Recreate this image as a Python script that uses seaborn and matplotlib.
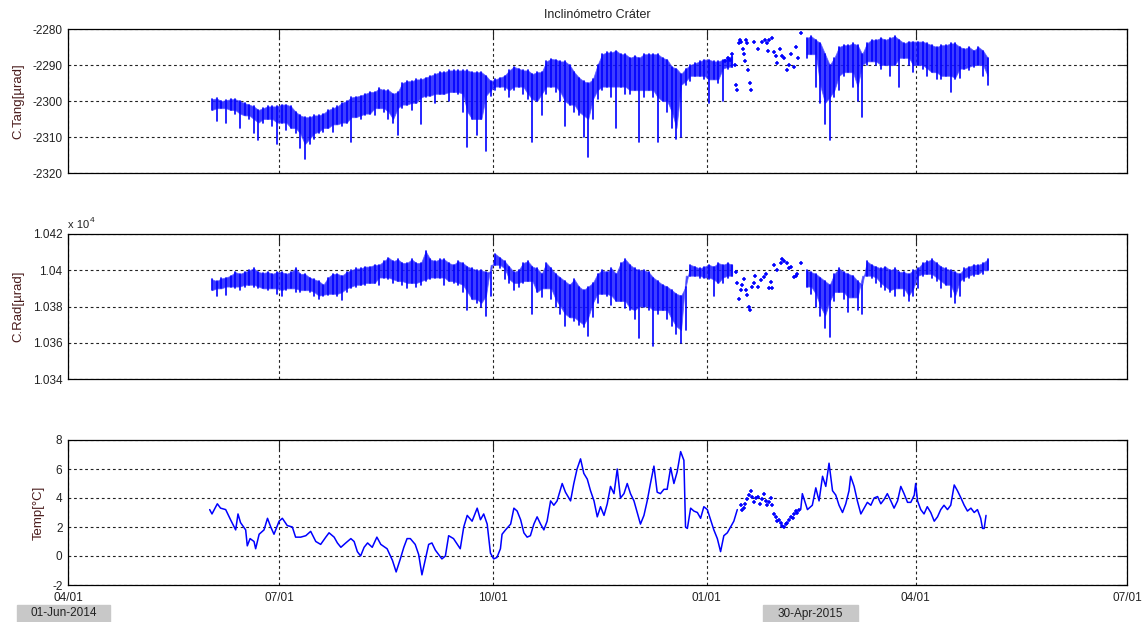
import numpy as np
import pandas as pd
import matplotlib
matplotlib.use("Agg")
import matplotlib.pyplot as plt
import matplotlib.dates as mdates
from matplotlib.patches import Rectangle
import seaborn as sns

# ---------------------------------------------------------------------------
# Data (days counted from 01-Jun-2014)
# ---------------------------------------------------------------------------
START = pd.Timestamp("2014-06-01")
END_LABEL = "30-Apr-2015"

# two-day blocks: upper and lower excursion of each block
days_early = list(range(0, 225, 2))
days_late = list(range(256, 335, 2))

tang_hi_early = [
    -2299.5, -2299.3, -2300, -2299.8, -2299.5, -2299.5, -2300, -2300.6, -2301, -2301.5,
    -2302.5, -2302, -2301.5, -2301.5, -2301.5, -2301, -2301, -2301.5, -2303, -2304,
    -2304.5, -2304.5, -2304, -2304, -2303.5, -2302.5, -2302, -2301.5, -2300.5, -2300,
    -2299, -2298.8, -2298.5, -2298, -2297.5, -2297.5, -2296.5, -2297, -2297, -2298,
    -2297.5, -2295, -2294.5, -2294.5, -2294, -2294, -2293.5, -2293, -2292.5, -2292,
    -2292, -2291.5, -2291.5, -2291.5, -2291.5, -2291.5, -2292, -2292, -2292, -2293,
    -2294.5, -2294, -2293.5, -2293, -2291.5, -2290.5, -2291, -2291.5, -2291.5, -2292.5,
    -2292, -2292, -2289, -2288.3, -2288.5, -2289, -2289, -2290, -2292, -2293.5,
    -2294.5, -2295, -2294, -2290, -2287, -2286.5, -2286.5, -2286, -2287, -2287,
    -2288, -2287.5, -2288, -2287, -2287, -2287, -2287, -2288, -2288.5, -2290.5,
    -2291, -2292.5, -2291, -2290, -2289.5, -2289, -2288.5, -2288.5, -2289, -2289,
    -2288.5, -2288, -2287.5,
]
tang_lo_early = [
    -2302.5, -2305.5, -2302, -2306, -2302.5, -2303.5, -2307.5, -2304, -2305, -2309,
    -2310.8, -2306, -2305, -2307, -2312, -2306, -2308, -2307.5, -2309, -2313,
    -2316, -2312, -2310.5, -2309, -2308.5, -2307.5, -2308.5, -2306.5, -2307, -2306,
    -2311.5, -2304.5, -2305, -2304, -2303.5, -2304, -2302, -2303, -2305, -2306,
    -2309.5, -2302, -2301, -2302.5, -2300.5, -2306.5, -2299, -2298.5, -2300.5, -2298,
    -2298, -2300, -2297.5, -2298, -2303, -2312.7, -2305, -2309.5, -2305, -2313.8,
    -2298.5, -2297, -2296, -2297, -2299, -2297, -2296, -2298, -2299.5, -2311.5,
    -2300, -2304, -2298, -2296, -2297.5, -2300, -2307, -2301, -2303, -2304,
    -2310, -2315.6, -2305, -2299.5, -2297, -2296, -2299, -2307.5, -2296, -2298,
    -2298, -2297, -2311.5, -2299, -2297, -2299, -2311.5, -2300, -2303, -2307.5,
    -2310.5, -2310, -2295.5, -2294.5, -2293, -2293, -2294, -2300.5, -2294, -2295,
    -2300, -2291, -2290.5,
]
tang_hi_late = [
    -2282.5, -2282, -2283, -2284, -2287, -2290, -2288, -2285, -2284.5, -2284.5,
    -2284, -2284.5, -2287, -2284, -2283, -2283, -2282.5, -2283, -2282.5, -2282,
    -2283, -2284, -2283.5, -2283.5, -2283.5, -2283.5, -2284, -2284.5, -2285, -2284.5,
    -2284.5, -2284, -2284, -2285, -2285.5, -2285, -2286, -2285, -2286, -2288,
]
tang_lo_late = [
    -2288, -2287, -2296, -2300.5, -2306.5, -2310.8, -2299, -2297, -2293, -2292,
    -2296, -2300, -2304.5, -2290, -2289, -2290, -2291, -2290, -2293, -2290,
    -2296, -2288, -2290, -2292, -2290, -2291, -2293, -2292, -2294, -2294,
    -2293, -2297.5, -2294, -2293.5, -2291, -2291.5, -2290.5, -2290, -2293, -2295.5,
]
# isolated readings during the January/February data gaps
tang_dot_days = [222, 223, 224, 225, 226, 226.5, 227, 228, 228.5, 229,
                 229.5, 230, 230.5, 231, 231.5, 232, 232.5, 233, 234.5, 236,
                 238, 239, 240, 240.5, 241, 242, 243, 244, 244.5, 245.5,
                 246.5, 247.5, 248.5, 249.5, 250.5, 251.5, 252.5, 253.5, 254.5]
tang_dot_vals = [-2289, -2288, -2288.5, -2287, -2290, -2295.5, -2297, -2284, -2283, -2283.5,
                 -2285.5, -2287, -2289, -2283, -2284, -2291.5, -2295, -2297, -2283.5, -2285.5,
                 -2283.5, -2283, -2284, -2286, -2283, -2282.5, -2286.5, -2287.5, -2289.5, -2285.5,
                 -2287.5, -2288, -2291.5, -2290, -2287, -2290.5, -2285, -2288, -2281]

rad_hi_early = [
    10395, 10394, 10395.5, 10396, 10397, 10399, 10398, 10399, 10400, 10401,
    10399, 10398.5, 10399, 10398, 10399, 10399, 10398, 10399, 10401, 10398,
    10398, 10396, 10395, 10394, 10392, 10396, 10398, 10398, 10397, 10399,
    10400, 10401, 10401, 10402, 10402, 10403, 10403, 10405, 10407, 10405,
    10406, 10404, 10404, 10406, 10404, 10404, 10410.5, 10406, 10405, 10406,
    10406, 10404, 10403, 10405, 10404, 10402, 10401, 10400, 10400, 10399,
    10399, 10409, 10407, 10405, 10402, 10399, 10400, 10404, 10405, 10402,
    10401, 10398, 10404, 10401, 10398, 10396, 10394, 10392, 10395, 10391,
    10389, 10391, 10393, 10398, 10400, 10399, 10401, 10398, 10404, 10406,
    10403, 10401, 10400, 10400, 10399, 10396, 10394, 10392, 10391, 10389,
    10387, 10386, 10391, 10403, 10402, 10401, 10402, 10403, 10402, 10404,
    10403, 10404, 10403,
]
rad_lo_early = [
    10389, 10386, 10390, 10386.5, 10391, 10390, 10389, 10391, 10392, 10391,
    10390, 10390, 10389, 10390, 10387, 10386, 10389, 10390, 10388, 10388,
    10389, 10388, 10386, 10384, 10386, 10386.5, 10387, 10386, 10383.5, 10388,
    10390, 10391, 10392, 10392, 10393, 10393, 10392, 10396, 10395, 10393,
    10394, 10392, 10390, 10393, 10391, 10392, 10394, 10395, 10396, 10396,
    10392, 10394, 10393, 10392, 10388, 10378, 10384, 10382, 10380, 10374.5,
    10386, 10403, 10401, 10395, 10393, 10389, 10391, 10393, 10394, 10376,
    10388, 10385, 10390, 10384, 10380, 10376, 10369, 10374, 10372, 10370,
    10368.5, 10364, 10374, 10382, 10387, 10386, 10381, 10383, 10383, 10379,
    10378, 10373, 10362.5, 10380, 10378, 10358.4, 10376, 10378, 10373, 10369,
    10365, 10360, 10367, 10397, 10397, 10396, 10396, 10395, 10386, 10393,
    10393, 10396, 10397,
]
rad_hi_late = [
    10400, 10399, 10398, 10396, 10394, 10392, 10398, 10401, 10399, 10398,
    10397, 10394, 10392, 10405, 10403, 10402, 10401, 10402, 10400, 10401,
    10399, 10399, 10398, 10400, 10401, 10404, 10405, 10406, 10404, 10402,
    10401, 10400, 10399, 10398, 10401, 10402, 10403, 10403, 10404, 10406,
]
rad_lo_late = [
    10391, 10387, 10380, 10375, 10368, 10363.4, 10383, 10388, 10384, 10377,
    10385, 10378, 10376, 10397, 10396, 10393, 10391, 10389, 10388, 10386,
    10390, 10386, 10383, 10386, 10390, 10397, 10398, 10396, 10394, 10390,
    10392, 10385, 10382, 10386, 10394, 10396, 10397, 10398, 10398, 10400,
]
rad_dot_days = [226.5, 227.2, 228, 228.7, 229.4, 230.1, 230.8, 231.5, 232.3, 232.7,
                233.5, 234.4, 235, 236, 237.3, 238.7, 239.5, 240.9, 241.6, 242.3,
                243, 244.5, 245.9, 246.5, 247.4, 248.8, 249.5, 250.2, 251.7, 252.5,
                253.1, 254.5]
rad_dot_vals = [10399, 10393, 10384, 10389, 10392, 10395, 10389, 10386.5, 10380, 10378,
                10391, 10393, 10397, 10391, 10394.6, 10396.5, 10398, 10390, 10393.7, 10390,
                10403, 10400, 10404, 10406, 10405, 10404, 10401, 10402, 10396.5, 10397,
                10398, 10404]

temp_days_early = [
    0, 1, 3.3, 4.7, 6.9, 9, 11.2, 12.2, 13.3, 15.5,
    16.2, 17.4, 19.1, 19.8, 21.3, 23.4, 24.9, 26.3, 27.7, 29.9,
    31.3, 33.4, 35.6, 37, 39.2, 41.4, 43.5, 45.7, 47.8, 50,
    51.4, 53.6, 55, 56.5, 58.6, 60.8, 62.2, 63.6, 65, 66.5,
    68, 70, 72, 73.7, 76.4, 78.7, 80.3, 82.1, 83.6, 85,
    86.4, 88.5, 90, 91.4, 92.8, 94.3, 95.7, 97.2, 98.6, 100,
    101.5, 102.9, 105, 107.9, 109.4, 110.9, 113, 115.2, 116.6, 118,
    119.5, 120.9, 122.3, 123.7, 125.2, 125.9, 127.4, 129.6, 131, 132.4,
    133.9, 135.3, 136.7, 138.1, 139.6, 141, 142.5, 143.9, 145.3, 146.8,
    148.2, 149.6, 151.8, 153.2, 155.4, 156.8, 158.2, 159.7, 161.1, 162.6,
    164, 165.5, 166.9, 168.3, 169.8, 171.2, 172.6, 174.1, 175.5, 176.9,
    178.4, 179.8, 181.2, 182.7, 184.1, 185.5, 187, 188.4, 189.8, 191.3,
    192.7, 194.1, 195.6, 197, 198.5, 199.9, 201.3, 202.8, 204.2, 204.9,
    205.7, 207.1, 208.5, 210, 211.4, 212.8, 214.3, 215.7, 217.1, 218.6,
    220, 221.4, 222.9, 224.3, 225.7, 227.2,
]
temp_vals_early = [
    3.2, 2.9, 3.6, 3.3, 3.2, 2.5, 1.8, 2.9, 2.3, 1.8,
    0.7, 1.2, 1.0, 0.5, 1.5, 1.8, 2.6, 2.0, 1.5, 2.4,
    2.6, 2.1, 2.0, 1.3, 1.3, 1.4, 1.7, 1.0, 0.8, 1.3,
    1.6, 1.3, 0.9, 0.6, 0.9, 1.2, 1.0, 0.3, 0.0, 0.6,
    0.9, 0.6, 1.3, 0.8, 0.5, -0.3, -1.1, -0.2, 0.6, 1.2,
    1.2, 0.8, 0.1, -1.3, -0.3, 0.8, 0.9, 0.4, 0.1, -0.2,
    0.0, 1.4, 1.2, 0.5, 2.0, 2.8, 2.4, 3.3, 2.5, 2.9,
    2.2, 0.2, -0.2, -0.1, 0.5, 1.5, 1.8, 2.2, 3.3, 3.1,
    2.5, 1.6, 1.3, 1.4, 2.2, 2.7, 2.2, 1.8, 2.4, 3.8,
    3.5, 3.8, 5.0, 4.4, 3.8, 5.0, 6.0, 6.7, 5.7, 5.3,
    4.5, 3.8, 2.7, 3.4, 2.8, 3.6, 4.8, 4.3, 6.0, 4.0,
    4.3, 5.0, 4.3, 3.8, 3.0, 2.2, 2.8, 3.8, 5.0, 6.2,
    4.4, 4.3, 4.6, 4.6, 6.1, 5.0, 5.8, 7.2, 6.6, 2.0,
    1.9, 3.3, 3.1, 3.0, 2.6, 3.4, 3.2, 2.5, 1.8, 1.2,
    0.3, 1.4, 1.6, 2.0, 2.4, 3.2,
]
temp_days_late = [
    254.5, 255.2, 257.4, 259.5, 261, 262.4, 263.9, 265.3, 266.7, 268.2,
    269.6, 271, 272.5, 273.9, 275.3, 276, 277.5, 278.9, 280.4, 281.8,
    283.2, 284.7, 286.1, 287.6, 289, 290.4, 291.8, 293.3, 294.7, 296.2,
    297.6, 299, 300.5, 301.9, 303.4, 304, 304.8, 306.2, 307.6, 309,
    310.5, 312, 313.4, 314.8, 316.2, 317.7, 319.1, 320.6, 322, 323.5,
    324.9, 326.3, 327.8, 329.2, 330.6, 332, 332.8, 333.5, 334.3,
]
temp_vals_late = [
    3.2, 4.3, 3.2, 3.5, 4.7, 3.8, 5.5, 4.8, 6.4, 4.5,
    4.2, 3.5, 3.0, 3.6, 4.5, 5.5, 4.8, 3.8, 2.9, 3.3,
    3.7, 3.5, 4.0, 4.1, 3.6, 3.9, 4.3, 3.8, 3.3, 3.8,
    4.8, 4.3, 3.7, 3.7, 4.2, 5.0, 3.8, 3.2, 2.9, 3.4,
    3.0, 2.4, 2.7, 3.2, 3.5, 3.2, 3.5, 4.9, 4.5, 4.0,
    3.5, 3.1, 3.3, 3.0, 3.2, 2.6, 1.9, 1.9, 2.8,
]
temp_dot_days = [228.6, 229.3, 230, 230.7, 231.5, 232.2, 232.9, 233.6, 234.3, 235.2,
                 236, 237, 238, 238.7, 239.4, 240, 240.8, 241.6, 242.3, 243,
                 243.7, 244.5, 245.2, 245.9, 246.6, 247.4, 248.1, 248.8, 249.5, 250.2,
                 251, 251.6, 252.4, 253.1, 253.8]
temp_dot_vals = [3.5, 3.2, 3.3, 3.6, 3.9, 4.2, 4.5, 4.1, 3.7, 4.0,
                 4.1, 3.6, 3.9, 4.3, 3.8, 3.5, 3.7, 4.0, 3.5, 2.9,
                 2.7, 2.4, 2.5, 2.3, 2.1, 2.0, 2.2, 2.3, 2.5, 2.7,
                 2.6, 2.9, 3.1, 3.0, 3.2]

# ---------------------------------------------------------------------------
# Helpers
# ---------------------------------------------------------------------------
def to_dates(days):
    return START + pd.to_timedelta(np.asarray(days, dtype=float), unit="D")


def block_strokes(days, hi, lo, first_id=0):
    """One vertical stroke per two-day block, from its upper to its lower value."""
    rows = []
    for k, (d, h, l) in enumerate(zip(days, hi, lo)):
        rows.append((d + 1, h, first_id + k))
        rows.append((d + 1, l, first_id + k))
    df = pd.DataFrame(rows, columns=["day", "val", "blk"])
    df["date"] = to_dates(df["day"])
    return df


def line_frame(segments):
    parts = []
    for seg, (days, vals) in enumerate(segments):
        parts.append(pd.DataFrame({"date": to_dates(days), "val": vals, "seg": seg}))
    return pd.concat(parts, ignore_index=True)


def shade_blocks(ax, days, hi, lo):
    """Dense band between the block tops and the shallower neighbouring lows;
    isolated deep excursions are left to the strokes."""
    floor = pd.Series(lo).rolling(3, center=True, min_periods=1).max()
    ax.fill_between(to_dates(np.asarray(days) + 1), hi, floor, color="#1c1cff",
                    alpha=0.85, lw=0.6, edgecolor="#5a5aff", zorder=1.5)


BLUE = "#0000ff"
LABEL_COLOR = "#4a1c1c"
TEXT = "#222222"

sns.set_theme(style="white")
plt.rcParams["font.family"] = ["Liberation Sans", "DejaVu Sans"]
plt.rcParams["axes.unicode_minus"] = False

fig = plt.figure(figsize=(11.47, 6.22), dpi=100)
W, H = 1147, 622
left, width = 68 / W, 1059 / W
ax1 = fig.add_axes([left, 1 - 173 / H, width, 144 / H])
ax2 = fig.add_axes([left, 1 - 379 / H, width, 145 / H])
ax3 = fig.add_axes([left, 1 - 585 / H, width, 145 / H])

n_early = len(days_early)
tang = pd.concat([block_strokes(days_early, tang_hi_early, tang_lo_early),
                  block_strokes(days_late, tang_hi_late, tang_lo_late, n_early)],
                 ignore_index=True)
rad = pd.concat([block_strokes(days_early, rad_hi_early, rad_lo_early),
                 block_strokes(days_late, rad_hi_late, rad_lo_late, n_early)],
                ignore_index=True)
temp = line_frame([(temp_days_early, temp_vals_early), (temp_days_late, temp_vals_late)])

shade_blocks(ax1, days_early, tang_hi_early, tang_lo_early)
shade_blocks(ax1, days_late, tang_hi_late, tang_lo_late)
shade_blocks(ax2, days_early, rad_hi_early, rad_lo_early)
shade_blocks(ax2, days_late, rad_hi_late, rad_lo_late)

for ax, df in [(ax1, tang), (ax2, rad)]:
    sns.lineplot(data=df, x="date", y="val", units="blk", estimator=None, sort=False,
                 color=BLUE, lw=1.2, ax=ax, legend=False, zorder=2)
sns.lineplot(data=temp, x="date", y="val", units="seg", estimator=None, sort=False,
             color=BLUE, lw=1.1, ax=ax3, legend=False, zorder=2)

for ax, ddays, dvals in [(ax1, tang_dot_days, tang_dot_vals),
                         (ax2, rad_dot_days, rad_dot_vals),
                         (ax3, temp_dot_days, temp_dot_vals)]:
    sns.scatterplot(x=to_dates(ddays), y=dvals, marker="+", s=10, color=BLUE,
                    linewidth=1.1, ax=ax, legend=False, zorder=2)

xticks = pd.to_datetime(["2014-04-01", "2014-07-01", "2014-10-01",
                         "2015-01-01", "2015-04-01", "2015-07-01"])
for ax in (ax1, ax2, ax3):
    ax.set_xlim(xticks[0], xticks[-1])
    ax.set_xticks(xticks)
    ax.xaxis.set_major_formatter(mdates.DateFormatter("%m/%d"))
    ax.grid(True, color=TEXT, ls=(0, (2.5, 2.5)), lw=0.8)
    ax.tick_params(direction="in", length=7, width=0.8, top=True, right=True,
                   labelsize=8.5, colors=TEXT)
    ax.tick_params(axis="y", pad=4)
    ax.tick_params(axis="x", pad=5)
    for sp in ax.spines.values():
        sp.set_color("black")
        sp.set_linewidth(0.9)
    ax.set_xlabel("")

for ax in (ax1, ax2):
    ax.tick_params(labelbottom=False)

ax1.set_ylim(-2320, -2280)
ax1.set_yticks([-2320, -2310, -2300, -2290, -2280])
ax1.set_ylabel("C.Tang[µrad]", color=LABEL_COLOR, fontsize=9.5)
ax1.yaxis.set_label_coords(-0.041, 0.5)
ax1.set_title("Inclinómetro Cráter", fontsize=9, color=TEXT, pad=8)

ax2.set_ylim(10340, 10420)
rad_ticks = [10340, 10360, 10380, 10400, 10420]
ax2.set_yticks(rad_ticks)
ax2.set_yticklabels(["1.034", "1.036", "1.038", "1.04", "1.042"])
ax2.set_ylabel("C.Rad[µrad]", color=LABEL_COLOR, fontsize=9.5)
ax2.yaxis.set_label_coords(-0.041, 0.5)
ax2.text(0.0, 1.025, "x 10", transform=ax2.transAxes, fontsize=8, color=TEXT,
         ha="left", va="bottom")
ax2.text(0.0205, 1.07, "4", transform=ax2.transAxes, fontsize=6, color=TEXT,
         ha="left", va="bottom")

ax3.set_ylim(-2, 8)
ax3.set_yticks([-2, 0, 2, 4, 6, 8])
ax3.set_ylabel("Temp[°C]", color=LABEL_COLOR, fontsize=9.5)
ax3.yaxis.set_label_coords(-0.022, 0.5)

# date range boxes under the bottom axis
for x0, x1, txt in [(17, 110, START.strftime("%d-%b-%Y")), (763, 858, END_LABEL)]:
    fig.patches.append(Rectangle((x0 / W, 0), (x1 - x0) / W, 17 / H,
                                 transform=fig.transFigure, color="#c8c8c8", zorder=0))
    fig.text((x0 + x1) / 2 / W, 8.5 / H, txt, ha="center", va="center",
             fontsize=8.5, color=TEXT)

fig.savefig("out.png", dpi=100)
